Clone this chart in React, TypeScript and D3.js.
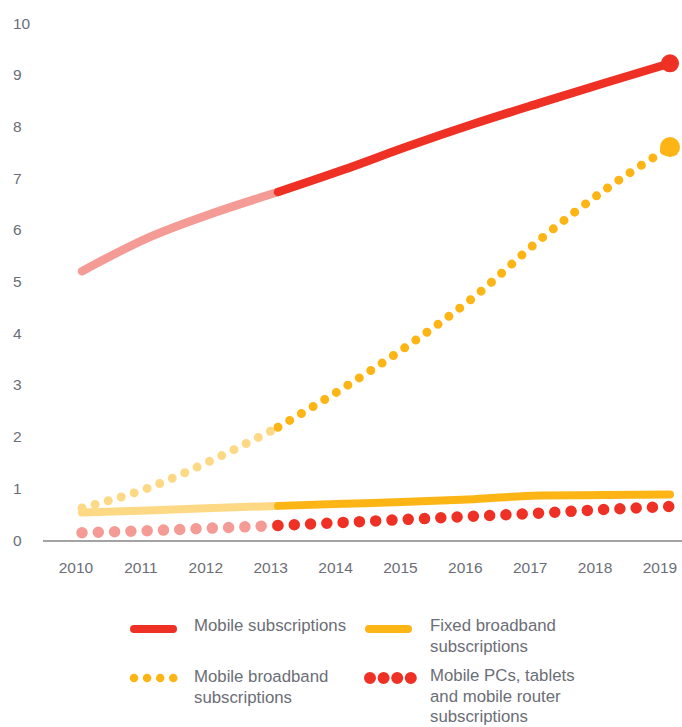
import { line, curveMonotoneX, scaleLinear } from 'd3'

const years = [2010, 2011, 2012, 2013, 2014, 2015, 2016, 2017, 2018, 2019]
const yTicks = [0, 1, 2, 3, 4, 5, 6, 7, 8, 9, 10]

// subscriptions, billions
const mobileSubs = [5.2, 5.84, 6.32, 6.73, 7.16, 7.62, 8.05, 8.45, 8.84, 9.22]
const mobileBroadband = [0.62, 1.0, 1.55, 2.18, 2.94, 3.77, 4.7, 5.8, 6.77, 7.6]
const fixedBroadband = [0.53, 0.57, 0.62, 0.66, 0.7, 0.74, 0.79, 0.86, 0.87, 0.88]
const mobilePcs = [0.14, 0.18, 0.23, 0.28, 0.34, 0.4, 0.46, 0.52, 0.59, 0.65]

const RED = '#ee3124'
const PINK = '#f59b96'
const YELLOW = '#fdb515'
const LIGHT_YELLOW = '#fdd985'
const TEXT = '#6b6e76'
const FONT = '"Liberation Sans", Arial, sans-serif'

const SPLIT = 3 // history before 2013 is drawn lighter

export default function App() {
  const x = scaleLinear().domain([2010, 2019]).range([82, 670])
  const xLabel = scaleLinear().domain([2010, 2019]).range([76, 660])
  const y = scaleLinear().domain([0, 10]).range([540, 23])

  const gen = line<[number, number]>()
    .x(d => x(d[0]))
    .y(d => y(d[1]))
    .curve(curveMonotoneX)

  // light part up to 2013, dark part from 2013 on
  const part = (vals: number[], from: number, to: number) => {
    const pts = vals.map((v, i) => [years[i], v] as [number, number]).slice(from, to)
    return gen(pts) ?? ''
  }

  const series = [
    { vals: fixedBroadband, light: LIGHT_YELLOW, dark: YELLOW, width: 8, dash: undefined },
    { vals: mobilePcs, light: PINK, dark: RED, width: 11.5, dash: '0 16.3' },
    { vals: mobileBroadband, light: LIGHT_YELLOW, dark: YELLOW, width: 9, dash: '0 13.6' },
    { vals: mobileSubs, light: PINK, dark: RED, width: 8.5, dash: undefined },
  ]

  const last = years.length - 1

  return (
    <svg
      width={682}
      height={727}
      style={{ position: 'absolute', left: 0, top: 0, background: '#fff' }}
      fontFamily={FONT}
    >
      {yTicks.map(t => (
        <text key={t} x={13} y={y(t)} dy="0.36em" fontSize={15.5} fill={TEXT}>
          {t}
        </text>
      ))}

      <line x1={43} x2={682} y1={y(0) + 1} y2={y(0) + 1} stroke="#a3a3a3" strokeWidth={2.2} />

      {years.map(yr => (
        <text key={yr} x={xLabel(yr)} y={573} textAnchor="middle" fontSize={15.5} fill={TEXT}>
          {yr}
        </text>
      ))}

      {series.map((s, i) => (
        <g key={i} fill="none" strokeLinecap="round" strokeLinejoin="round">
          <path d={part(s.vals, 0, SPLIT + 1)} stroke={s.light} strokeWidth={s.width} strokeDasharray={s.dash} />
          <path d={part(s.vals, SPLIT, years.length)} stroke={s.dark} strokeWidth={s.width} strokeDasharray={s.dash} />
        </g>
      ))}
      <circle cx={x(years[last])} cy={y(mobileSubs[last])} r={9} fill={RED} />
      <circle cx={x(years[last])} cy={y(mobileBroadband[last])} r={10} fill={YELLOW} />

      {/* legend */}
      <g fill="none" strokeLinecap="round">
        <line x1={134} x2={173} y1={629} y2={629} stroke={RED} strokeWidth={8} />
        <line x1={369} x2={408} y1={629} y2={629} stroke={YELLOW} strokeWidth={8} />
        <line x1={134} x2={173.5} y1={678} y2={678} stroke={YELLOW} strokeWidth={8.5} strokeDasharray="0 13.1" />
        <line x1={370} x2={411} y1={678} y2={678} stroke={RED} strokeWidth={12} strokeDasharray="0 13.6" />
      </g>
      <g fontSize={16.8} fill={TEXT}>
        <text x={194} y={631}>Mobile subscriptions</text>
        <text x={430} y={631}>Fixed broadband</text>
        <text x={430} y={652}>subscriptions</text>
        <text x={194} y={682}>Mobile broadband</text>
        <text x={194} y={703}>subscriptions</text>
        <text x={430} y={681}>Mobile PCs, tablets</text>
        <text x={430} y={701.5}>and mobile router</text>
        <text x={430} y={722}>subscriptions</text>
      </g>
    </svg>
  )
}
